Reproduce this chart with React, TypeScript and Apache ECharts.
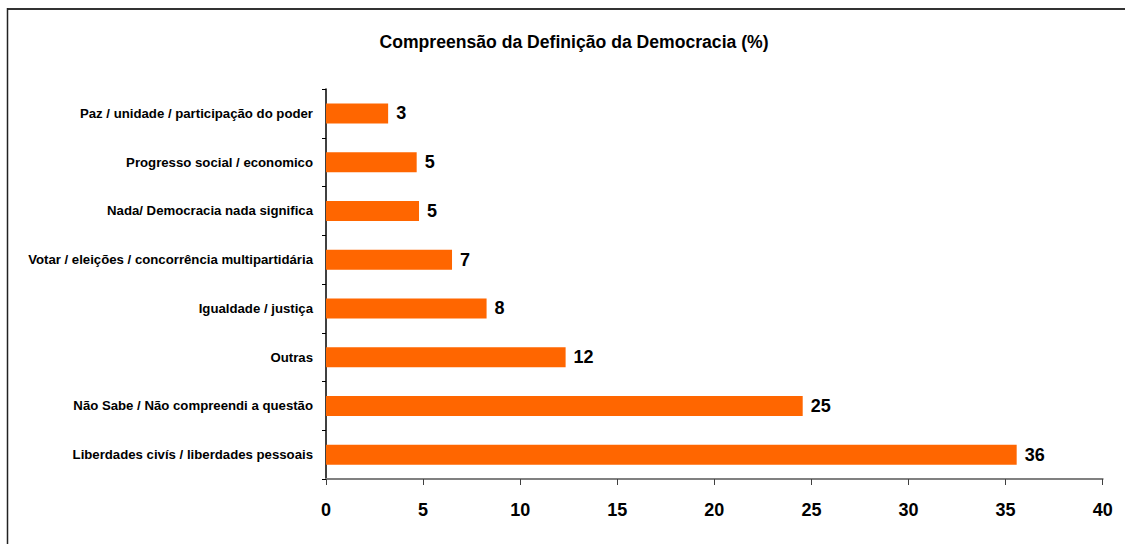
import React, { useEffect, useRef } from "react";
import * as echarts from "echarts";

const categories = [
  "Paz / unidade / participação do poder",
  "Progresso social / economico",
  "Nada/ Democracia nada significa",
  "Votar / eleições / concorrência multipartidária",
  "Igualdade / justiça",
  "Outras",
  "Não Sabe / Não compreendi a questão",
  "Liberdades civís / liberdades pessoais",
];
const values = [3.2, 4.67, 4.79, 6.49, 8.27, 12.34, 24.55, 35.57];
const valueLabels = ["3", "5", "5", "7", "8", "12", "25", "36"];
const xTicks = [0, 5, 10, 15, 20, 25, 30, 35, 40];

const FONT = "'Liberation Sans', Arial, sans-serif";

export default function App() {
  const ref = useRef<HTMLDivElement>(null);
  useEffect(() => {
    if (!ref.current) return;
    const chart = echarts.init(ref.current, null, { renderer: "svg" });
    chart.setOption({
      animation: false,
      backgroundColor: "#ffffff",
      title: {
        text: "Compreensão da Definição da Democracia (%)",
        left: 569,
        textAlign: "center",
        top: 28,
        textStyle: { fontFamily: FONT, fontWeight: "bold", fontSize: 17.6, color: "#000" },
      },
      graphic: [
        { type: "line", shape: { x1: 7, y1: 9, x2: 1125, y2: 9 }, style: { stroke: "#333", lineWidth: 2 } },
        { type: "line", shape: { x1: 7.5, y1: 8, x2: 7.5, y2: 544 }, style: { stroke: "#222", lineWidth: 1.5 } },
      ],
      grid: { left: 326, top: 89, width: 776.7, height: 390, containLabel: false },
      xAxis: {
        type: "value",
        min: 0,
        max: 40,
        interval: 5,
        axisLine: { show: true, lineStyle: { color: "#808080", width: 2 } },
        axisTick: { show: true, length: 6, lineStyle: { color: "#404040", width: 1 } },
        splitLine: { show: false },
        axisLabel: {
          margin: 22,
          fontFamily: FONT,
          fontWeight: "bold",
          fontSize: 18,
          color: "#000",
          formatter: (v: number) => (xTicks.includes(v) ? String(v) : ""),
        },
      },
      yAxis: {
        type: "category",
        inverse: true,
        data: categories,
        axisLine: { show: true, lineStyle: { color: "#000", width: 1.5 } },
        axisTick: { show: true, length: 4, lineStyle: { color: "#000", width: 1 } },
        axisLabel: {
          margin: 13,
          fontFamily: FONT,
          fontWeight: "bold",
          fontSize: 13.2,
          color: "#000",
        },
      },
      series: [
        {
          type: "bar",
          data: values,
          barWidth: 20,
          itemStyle: { color: "#FF6600" },
          label: {
            show: true,
            position: "right",
            distance: 8,
            fontFamily: FONT,
            fontWeight: "bold",
            fontSize: 18,
            color: "#000",
            formatter: (p: any) => valueLabels[p.dataIndex],
          },
        },
      ],
    });
    return () => chart.dispose();
  }, []);
  return (
    <div
      ref={ref}
      style={{ position: "absolute", left: 0, top: 0, width: 1125, height: 544 }}
    />
  );
}
